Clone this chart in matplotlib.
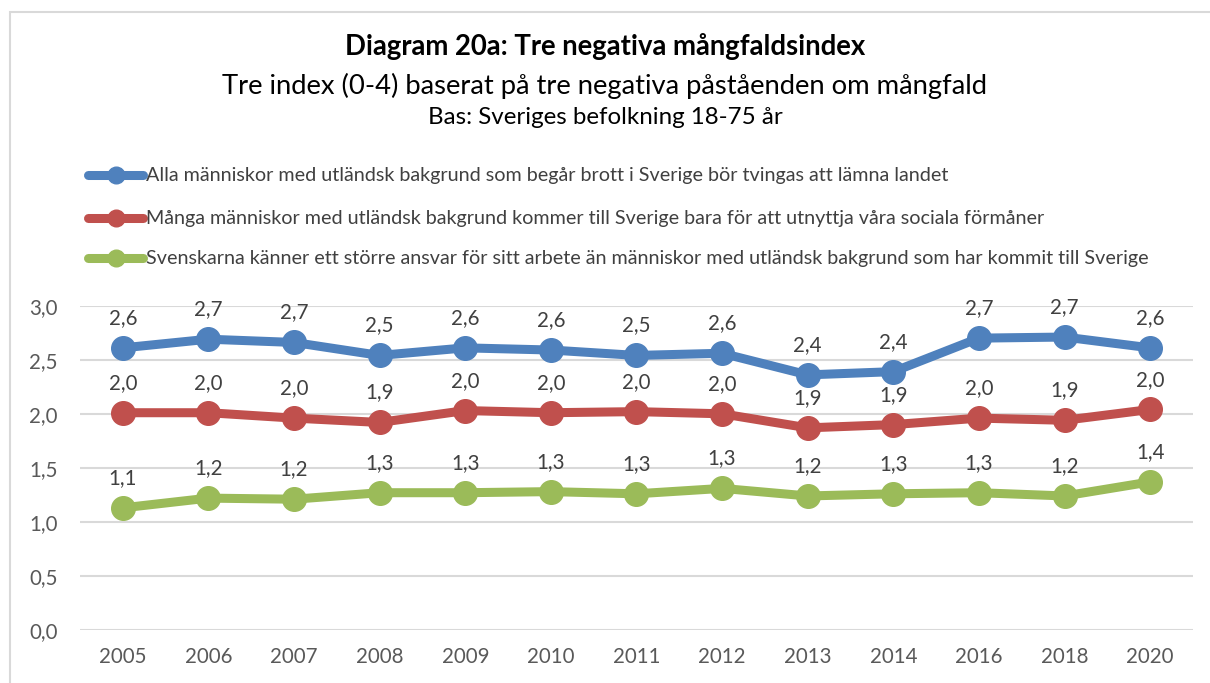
import matplotlib
matplotlib.use("Agg")
import matplotlib.pyplot as plt
from matplotlib.patches import Rectangle

years = ["2005", "2006", "2007", "2008", "2009", "2010", "2011", "2012",
         "2013", "2014", "2016", "2018", "2020"]
series_names = [
    "Alla människor med utländsk bakgrund som begår brott i Sverige bör tvingas att lämna landet",
    "Många människor med utländsk bakgrund kommer till Sverige bara för att utnyttja våra sociala förmåner",
    "Svenskarna känner ett större ansvar för sitt arbete än människor med utländsk bakgrund som har kommit till Sverige",
]
blue_vals = [2.61, 2.69, 2.66, 2.54, 2.61, 2.59, 2.54, 2.56, 2.36, 2.39, 2.70, 2.71, 2.61]
red_vals = [2.01, 2.01, 1.96, 1.92, 2.03, 2.01, 2.02, 2.00, 1.87, 1.90, 1.96, 1.94, 2.04]
green_vals = [1.13, 1.22, 1.21, 1.27, 1.27, 1.28, 1.26, 1.31, 1.24, 1.26, 1.27, 1.24, 1.37]
colors = ["#4f81bd", "#c0504d", "#9bbb59"]
yticks = [0.0, 0.5, 1.0, 1.5, 2.0, 2.5, 3.0]

title = "Diagram 20a: Tre negativa mångfaldsindex"
subtitle = "Tre index (0-4) baserat på tre negativa påståenden om mångfald"
base = "Bas: Sveriges befolkning 18-75 år"

plt.rcParams['font.family'] = ['Lato', 'DejaVu Sans']
W, H = 1210, 683
fig = plt.figure(figsize=(W / 100, H / 100), dpi=100)

# chart frame
fig.patches.append(Rectangle((10 / W, -0.05), 1.2, 1 - 12 / H + 0.05, transform=fig.transFigure,
                             fill=False, edgecolor="#d9d9d9", linewidth=1.5))

ax = fig.add_axes([80 / W, 1 - 630 / H, (1193 - 80) / W, (630 - 305.7) / H])
x = list(range(len(years)))
for vals, c, name in zip([blue_vals, red_vals, green_vals], colors, series_names):
    ax.plot(x, vals, color=c, linewidth=6.5, marker="o", markersize=17,
            solid_capstyle="round", label=name, zorder=3, clip_on=False)
    for xi, v in zip(x, vals):
        ax.annotate(f"{v:.1f}".replace(".", ","), (xi, v), xytext=(0, 21.5),
                    textcoords="offset points", ha="center", va="center",
                    fontsize=14.8, color="#404040", zorder=4)

ax.set_xlim(-0.5, len(years) - 0.5)
ax.set_ylim(0, 3.0)
ax.set_yticks(yticks)
ax.set_yticklabels([f"{t:.1f}".replace(".", ",") for t in yticks])
ax.set_xticks(x)
ax.set_xticklabels(years)
ax.tick_params(axis="both", length=0, labelsize=14.8, labelcolor="#595959")
ax.tick_params(axis="y", pad=16)
ax.tick_params(axis="x", pad=12)
for s in ax.spines.values():
    s.set_visible(False)
ax.grid(axis="y", color="#d9d9d9", linewidth=1.5, zorder=0)
ax.set_axisbelow(True)

fig.text(0.5, 1 - 47 / H, title, ha="center", va="center", fontsize=19.8,
         fontweight="bold", color="black")
fig.text(0.5, 1 - 86 / H, subtitle, ha="center", va="center", fontsize=19.7, color="black")
fig.text(0.5, 1 - 118 / H, base, ha="center", va="center", fontsize=17.4, color="black")

leg_y = [175, 218, 258]
for yy, c, name in zip(leg_y, colors, series_names):
    yf = 1 - yy / H
    fig.add_artist(plt.Line2D([88 / W, 143 / W], [yf, yf], transform=fig.transFigure,
                              color=c, linewidth=6.5, solid_capstyle="round"))
    fig.add_artist(plt.Line2D([116 / W], [yf], transform=fig.transFigure, color=c,
                              marker="o", markersize=12, linestyle="none"))
    fig.text(146 / W, yf, name, ha="left", va="center", fontsize=14.2, color="#404040")

fig.savefig("out.png", dpi=100)
